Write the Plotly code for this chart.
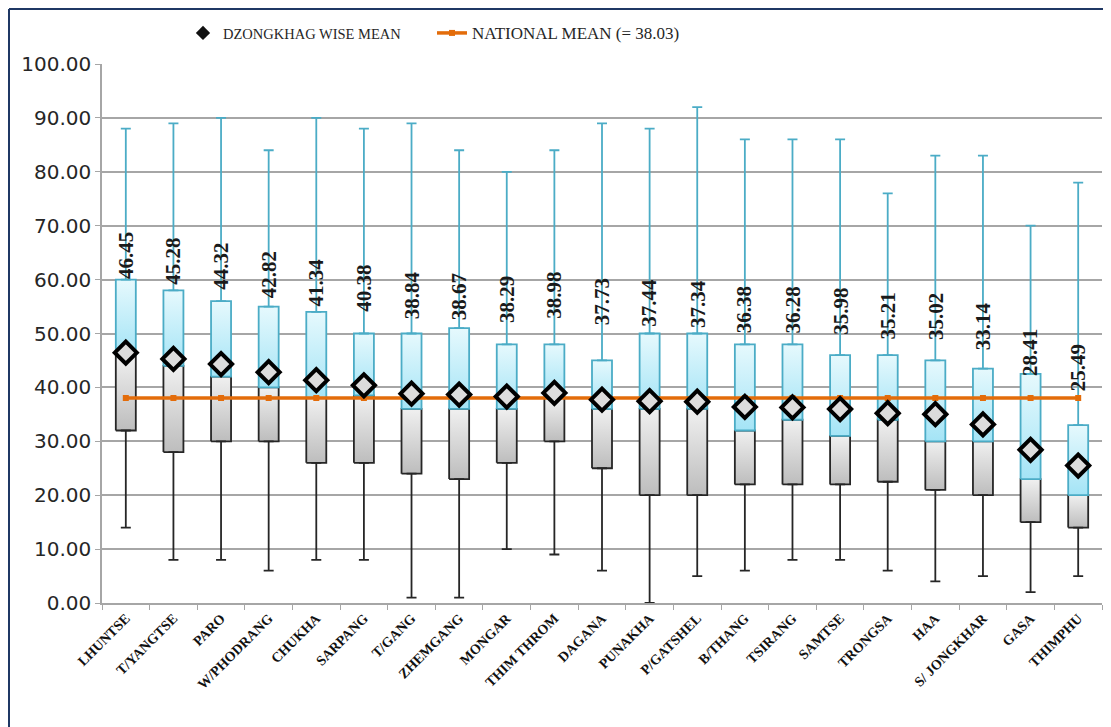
import plotly.graph_objects as go

categories = ["LHUNTSE", "T/YANGTSE", "PARO", "W/PHODRANG", "CHUKHA", "SARPANG", "T/GANG",
              "ZHEMGANG", "MONGAR", "THIM THROM", "DAGANA", "PUNAKHA", "P/GATSHEL", "B/THANG",
              "TSIRANG", "SAMTSE", "TRONGSA", "HAA", "S/ JONGKHAR", "GASA", "THIMPHU"]
mins = [14, 8, 8, 6, 8, 8, 1, 1, 10, 9, 6, 0, 5, 6, 8, 8, 6, 4, 5, 2, 5]
q1 = [32, 28, 30, 30, 26, 26, 24, 23, 26, 30, 25, 20, 20, 22, 22, 22, 22.5, 21, 20, 15, 14]
medians = [46, 44, 42, 40, 38, 38.5, 36, 36, 36, 38, 36, 36, 36, 32, 34, 31, 34, 30, 30, 23, 20]
q3 = [60, 58, 56, 55, 54, 50, 50, 51, 48, 48, 45, 50, 50, 48, 48, 46, 46, 45, 43.5, 42.5, 33]
maxs = [88, 89, 90, 84, 90, 88, 89, 84, 80, 84, 89, 88, 92, 86, 86, 86, 76, 83, 83, 70, 78]
means = [46.45, 45.28, 44.32, 42.82, 41.34, 40.38, 38.84, 38.67, 38.29, 38.98, 37.73, 37.44,
         37.34, 36.38, 36.28, 35.98, 35.21, 35.02, 33.14, 28.41, 25.49]
national_mean = 38.03

CYAN = "#4bacc6"
ORANGE = "#e36c0a"
SERIF = "Liberation Serif"
HALF = 0.21  # half box width in category units

xs = list(range(len(categories)))
fig = go.Figure()


def add_box_part(i, lo, hi, line_color, scale):
    fig.add_trace(go.Scatter(
        x=[i - HALF, i + HALF, i + HALF, i - HALF, i - HALF],
        y=[lo, lo, hi, hi, lo], mode="lines", fill="toself",
        fillgradient=dict(type="vertical", colorscale=scale),
        line=dict(color=line_color, width=1.8),
        showlegend=False, hoverinfo="skip"))


for i in xs:
    add_box_part(i, q1[i], medians[i], "#262626", [[0, "#bdbdbd"], [1, "#f0f0f0"]])
    add_box_part(i, medians[i], q3[i], CYAN, [[0, "#a4e4f6"], [1, "#e6f9fd"]])

# lower whiskers
fig.add_trace(go.Scatter(
    x=xs, y=q1, mode="markers", marker=dict(size=1, color="rgba(0,0,0,0)"),
    error_y=dict(type="data", symmetric=False, array=[0] * len(q1),
                 arrayminus=[a - lo for a, lo in zip(q1, mins)],
                 color="#262626", thickness=1.8, width=5),
    showlegend=False, hoverinfo="skip"))
# upper whiskers
fig.add_trace(go.Scatter(
    x=xs, y=q3, mode="markers", marker=dict(size=1, color="rgba(0,0,0,0)"),
    error_y=dict(type="data", symmetric=False, arrayminus=[0] * len(q3),
                 array=[hi - b for hi, b in zip(maxs, q3)],
                 color=CYAN, thickness=1.8, width=5),
    showlegend=False, hoverinfo="skip"))

# legend proxy for means
fig.add_trace(go.Scatter(
    x=[None], y=[None], mode="markers", name="DZONGKHAG WISE MEAN",
    marker=dict(symbol="diamond", size=11, color="#111111")))
# national mean line
fig.add_trace(go.Scatter(
    x=xs, y=[national_mean] * len(categories), mode="lines+markers",
    name='<span style="font-size:17px">NATIONAL MEAN (= 38.03)</span>',
    line=dict(color=ORANGE, width=3.5),
    marker=dict(symbol="square", size=6, color=ORANGE)))
# means
fig.add_trace(go.Scatter(
    x=xs, y=means, mode="markers", showlegend=False,
    marker=dict(symbol="diamond", size=17, color="#dcdcdc",
                line=dict(color="#000000", width=4))))

for i, m in zip(xs, means):
    fig.add_annotation(x=i, y=m, text="<b>%.2f</b>" % m, textangle=-90,
                       showarrow=False, yanchor="bottom", yshift=72,
                       font=dict(family=SERIF, size=21, color="#1a1a1a"))

# page body adds an 8px offset; figure is sized to fill the rest of the window
W, H = 1103, 719
ml, mr, mt, mb = 94, 9, 56, 124
pw, ph = W - ml - mr, H - mt - mb
# outer frame lines (top and left)
fig.add_shape(type="line", xref="paper", yref="paper",
              x0=(1 - ml) / pw, x1=(W - ml) / pw,
              y0=1 + (mt - 1) / ph, y1=1 + (mt - 1) / ph,
              line=dict(color="#1f3864", width=2))
fig.add_shape(type="line", xref="paper", yref="paper",
              x0=(1 - ml) / pw, x1=(1 - ml) / pw,
              y0=1 + (mt - 1) / ph, y1=-(mb) / ph,
              line=dict(color="#1f3864", width=2))

fig.update_layout(
    width=W, height=H,
    margin=dict(l=ml, r=mr, t=mt, b=mb),
    paper_bgcolor="white", plot_bgcolor="white",
    showlegend=True,
    legend=dict(orientation="h", x=(175 - ml) / pw, xanchor="left",
                y=1 + (mt - 9) / ph, yanchor="top",
                font=dict(family=SERIF, size=14.5, color="#262626"),
                bgcolor="rgba(0,0,0,0)", traceorder="normal",
                entrywidth=204, entrywidthmode="pixels"),
    xaxis=dict(tickmode="array", tickvals=xs, ticktext=categories,
               tickangle=-45, showgrid=False, zeroline=False,
               showline=True, linecolor="#a6a6a6", linewidth=1.5,
               ticks="", ticklen=0,
               minor=dict(tick0=-0.5, dtick=1, ticks="outside", ticklen=5,
                          tickcolor="#a6a6a6", showgrid=False),
               tickfont=dict(family=SERIF, size=14, color="#111111", weight="bold"),
               range=[-0.5, len(categories) - 0.5]),
    yaxis=dict(range=[0, 100], dtick=10, tickformat=".2f",
               showgrid=True, gridcolor="#a6a6a6", gridwidth=1.5,
               showline=True, linecolor="#a6a6a6", linewidth=1.5,
               ticks="outside", ticklen=5, tickcolor="#a6a6a6",
               zeroline=False,
               tickfont=dict(family="DejaVu Sans", size=20, color="#262626")),
)

fig.write_html("out.html")
